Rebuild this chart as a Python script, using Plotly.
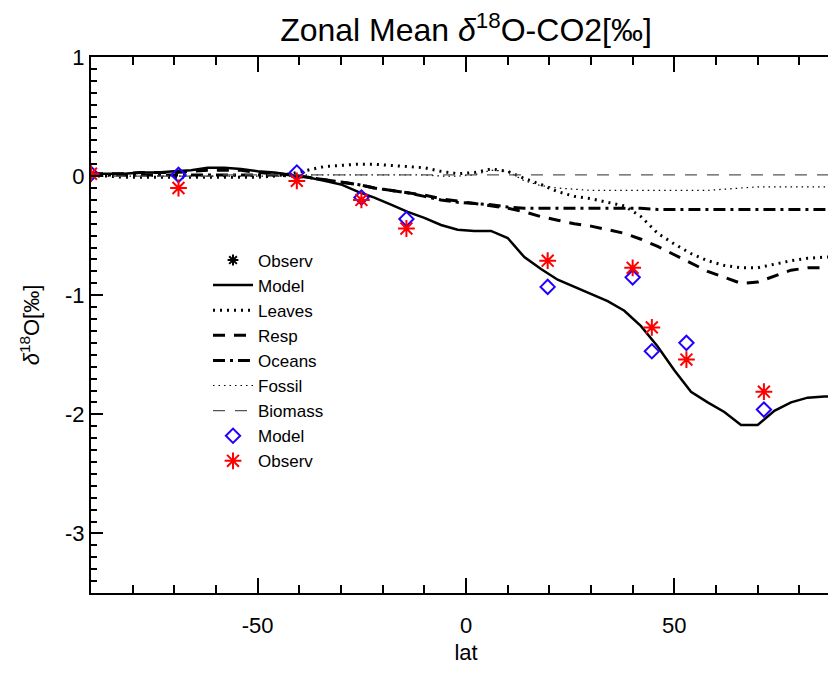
import plotly.graph_objects as go

# ---------------- data ----------------
lat = [-90, -86, -82, -78, -74, -70, -66, -62, -58, -54, -50, -46, -42, -38, -34, -30,
       -26, -22, -18, -14, -10, -6, -2, 2, 6, 10, 14, 18, 22, 26, 30, 34, 38, 42, 46,
       50, 54, 58, 62, 66, 70, 74, 78, 82, 86, 90]

model = [0.02, 0.02, 0.02, 0.03, 0.03, 0.04, 0.05, 0.07, 0.07, 0.06, 0.04, 0.03, 0.01,
         -0.01, -0.04, -0.07, -0.13, -0.18, -0.24, -0.30, -0.35, -0.41, -0.45, -0.46,
         -0.46, -0.52, -0.68, -0.78, -0.87, -0.93, -0.99, -1.05, -1.13, -1.26, -1.43,
         -1.63, -1.81, -1.90, -1.98, -2.09, -2.09, -1.97, -1.90, -1.86, -1.85, -1.85]

leaves = [0.0, 0.0, -0.01, -0.01, -0.01, -0.01, -0.01, -0.01, -0.01, -0.01, -0.01, 0.0,
          0.02, 0.05, 0.08, 0.09, 0.10, 0.10, 0.09, 0.08, 0.07, 0.04, 0.02, 0.03, 0.06,
          0.04, -0.02, -0.07, -0.13, -0.17, -0.19, -0.22, -0.25, -0.34, -0.48, -0.57,
          -0.65, -0.71, -0.75, -0.77, -0.77, -0.74, -0.71, -0.69, -0.68, -0.68]

resp = [0.02, 0.02, 0.02, 0.03, 0.03, 0.03, 0.04, 0.05, 0.05, 0.05, 0.03, 0.02, 0.01,
        -0.01, -0.03, -0.05, -0.07, -0.10, -0.12, -0.14, -0.16, -0.19, -0.21, -0.23,
        -0.25, -0.27, -0.30, -0.34, -0.37, -0.40, -0.42, -0.45, -0.48, -0.53, -0.59,
        -0.66, -0.73, -0.80, -0.85, -0.90, -0.89, -0.84, -0.79, -0.77, -0.77, -0.77]

oceans = [0.01, 0.01, 0.01, 0.01, 0.01, 0.01, 0.01, 0.01, 0.01, 0.01, 0.01, 0.01, 0.0,
          -0.01, -0.03, -0.05, -0.07, -0.10, -0.12, -0.14, -0.17, -0.20, -0.22, -0.23,
          -0.24, -0.26, -0.27, -0.27, -0.27, -0.27, -0.27, -0.27, -0.27, -0.27, -0.28,
          -0.28, -0.28, -0.28, -0.28, -0.28, -0.28, -0.28, -0.28, -0.28, -0.28, -0.28]

fossil = [0.0, 0.0, 0.0, 0.0, 0.0, 0.0, 0.0, 0.0, 0.0, 0.0, 0.0, 0.0, 0.0, 0.01, 0.01,
          0.01, 0.01, 0.01, 0.01, 0.01, 0.01, 0.0, 0.0, 0.01, 0.05, 0.04, -0.04, -0.08,
          -0.10, -0.11, -0.12, -0.12, -0.12, -0.12, -0.12, -0.12, -0.12, -0.12, -0.11,
          -0.10, -0.09, -0.09, -0.09, -0.09, -0.09, -0.09]

biomass = [0.0, 0.0, 0.0, 0.0, 0.0, 0.0, 0.0, 0.0, 0.01, 0.01, 0.01, 0.01, 0.01, 0.01,
           0.01, 0.01, 0.01, 0.01, 0.01, 0.01, 0.01, 0.01, 0.01, 0.01, 0.01, 0.01, 0.01,
           0.01, 0.01, 0.01, 0.01, 0.01, 0.01, 0.01, 0.01, 0.01, 0.01, 0.01, 0.01, 0.01,
           0.01, 0.01, 0.01, 0.01, 0.01, 0.01]

site_lat = [-90, -69, -40.6, -25.1, -14.3, 19.6, 40.0, 44.6, 52.9, 71.5]
site_model = [0.02, 0.01, 0.03, -0.18, -0.36, -0.93, -0.85, -1.47, -1.40, -1.96]
site_obs = [0.02, -0.10, -0.04, -0.20, -0.44, -0.71, -0.77, -1.27, -1.54, -1.81]

x_ticks = [-50, 0, 50]
x_ticktext = ["-50", "0", "50"]
y_ticks = [1, 0, -1, -2, -3]
y_ticktext = ["1", "0", "-1", "-2", "-3"]

FONT = "Liberation Sans Narrow, Liberation Sans, Arial, sans-serif"

fig = go.Figure()

# legend-only header entry
fig.add_trace(go.Scatter(x=[None], y=[None], mode="markers", name="Observ",
                         marker=dict(symbol="asterisk-open", size=9, color="black",
                                     line=dict(color="black", width=2))))

def line(y, name, dash, width, color="black"):
    fig.add_trace(go.Scatter(x=lat, y=y, mode="lines", name=name,
                             line=dict(color=color, width=width, dash=dash)))

line(model, "Model", "solid", 2.5)
line(leaves, "Leaves", "2px,5px", 3)
line(resp, "Resp", "12px,9px", 3)
line(oceans, "Oceans", "12px,5px,3px,5px", 3)
line(fossil, "Fossil", "1.5px,4px", 1.2)
line(biomass, "Biomass", "12px,10px", 1.2, "#555555")

fig.add_trace(go.Scatter(x=site_lat, y=site_model, mode="markers", name="Model",
                         marker=dict(symbol="diamond-open", size=11, color="#2200ff",
                                     line=dict(color="#2200ff", width=2))))
fig.add_trace(go.Scatter(x=site_lat, y=site_obs, mode="markers", name="Observ",
                         marker=dict(symbol="asterisk-open", size=14, color="red",
                                     line=dict(color="red", width=2))))

fig.update_layout(
    width=836, height=675,
    margin=dict(l=83, r=1, t=49, b=90),
    paper_bgcolor="white", plot_bgcolor="white",
    font=dict(family=FONT, size=22, color="black"),
    title=dict(text="Zonal Mean <i>δ</i><sup>18</sup>O-CO2[‰]",
               font=dict(family=FONT, size=32, color="black"),
               xref="paper", x=0.5, xanchor="center",
               yref="container", y=1 - 22 / 675, yanchor="middle"),
    showlegend=True,
    legend=dict(x=0.156, y=0.654, xanchor="left", yanchor="top",
                bgcolor="rgba(0,0,0,0)", font=dict(family=FONT, size=17),
                itemwidth=40, tracegroupgap=0),
)

fig.update_xaxes(
    range=[-90, 90], tickmode="array", tickvals=x_ticks, ticktext=x_ticktext,
    ticks="inside", ticklen=15, tickwidth=1.5, tickcolor="black",
    ticklabelstandoff=12,
    showline=True, linewidth=2, linecolor="black", mirror="ticks",
    showgrid=False, zeroline=False,
    minor=dict(dtick=10, tick0=0, ticks="inside", ticklen=8, tickwidth=1.5,
               tickcolor="black", showgrid=False),
    title=dict(text="lat", font=dict(family=FONT, size=22), standoff=7),
)
fig.update_yaxes(
    range=[-3.5, 1.0], tickmode="array", tickvals=y_ticks, ticktext=y_ticktext,
    ticks="inside", ticklen=12, tickwidth=1.5, tickcolor="black",
    showline=True, linewidth=2, linecolor="black", mirror="ticks",
    showgrid=False, zeroline=False,
    minor=dict(dtick=0.1, tick0=0, ticks="inside", ticklen=6, tickwidth=1.5,
               tickcolor="black", showgrid=False),
    title=dict(text="<i>δ</i><sup>18</sup>O[‰]", font=dict(family=FONT, size=22),
               standoff=19),
)

fig.write_html("out.html")
